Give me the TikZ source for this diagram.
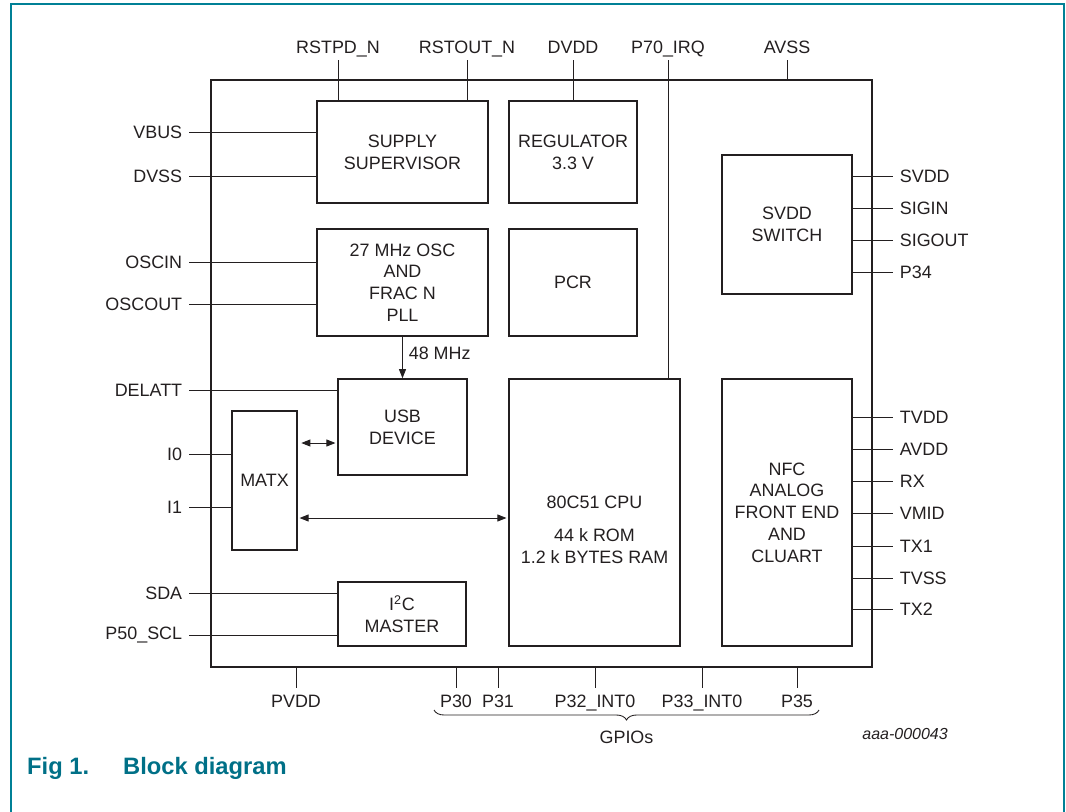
\documentclass[tikz,border=0pt]{standalone}
\usepackage{fontspec}
\setmainfont{Liberation Sans}
\usepackage{tikz}
\usetikzlibrary{positioning, arrows.meta, decorations.pathreplacing}
\definecolor{nxpteal}{RGB}{0,112,135}
\definecolor{frameteal}{RGB}{0,128,150}
\definecolor{ink}{RGB}{35,31,32}

\begin{document}
\begin{tikzpicture}[x=0.02cm, y=-0.02cm,
        every node/.style={font=\fontsize{10.2}{12.4}\selectfont, text=ink},
        chipbox/.style={rectangle, draw=ink, line width=1.1pt, minimum width=13.22cm, minimum height=11.74cm},
        blk/.style={rectangle, draw=ink, line width=0.95pt, align=center, inner sep=0pt},
        pin/.style={draw=ink, line width=0.5pt},
        pinlbl/.style={inner sep=0.13cm},
        arr/.style={-{Triangle[length=1.8mm, width=1.4mm]}, draw=ink, line width=0.5pt},
        darr/.style={{Triangle[length=1.8mm, width=1.4mm]}-{Triangle[length=1.8mm, width=1.4mm]}, draw=ink, line width=0.5pt}
    ]
    \useasboundingbox (0,0) rectangle (1066,812);
%
    % Frame
    \draw[frameteal, line width=0.9pt] (11,812) -- (11,4) -- (1064,4) -- (1064,812);
%
    % Chip and blocks
    \node[chipbox] (chip) at (541.5,373.5) {};
    \node[blk, minimum width=3.42cm, minimum height=2.04cm] (sup) at (402.5,152) {SUPPLY\\SUPERVISOR};
    \node[blk, minimum width=2.56cm, minimum height=2.04cm] (reg) at (573,152) {REGULATOR\\3.3 V};
    \node[blk, minimum width=3.42cm, minimum height=2.14cm] (osc) at (402.5,282.5) {27 MHz OSC\\AND\\FRAC N\\PLL};
    \node[blk, minimum width=2.56cm, minimum height=2.14cm] (pcr) at (573,282.5) {PCR};
    \node[blk, minimum width=2.6cm, minimum height=2.78cm] (sw) at (787,224.5) {SVDD\\SWITCH};
    \node[blk, minimum width=2.58cm, minimum height=1.92cm] (usb) at (402.5,427) {USB\\DEVICE};
    \node[blk, minimum width=1.3cm, minimum height=2.78cm] (matx) at (264.5,480.5) {MATX};
    \node[blk, minimum width=3.42cm, minimum height=5.34cm] (cpu) at (594.5,512.5) {};
    \node[align=center] (cputxt) at (594.5,530) {80C51 CPU\\[0.22cm]44 k ROM\\1.2 k BYTES RAM};
    \node[blk, minimum width=2.6cm, minimum height=5.34cm] (nfc) at (787,512.5) {NFC\\ANALOG\\FRONT END\\AND\\CLUART};
    \node[blk, minimum width=2.56cm, minimum height=1.28cm] (i2c) at (402,614) {I\textsuperscript{2}C\\MASTER};
%
    % Top pins
    \foreach \x/\n/\t/\b in {338/rstpd/RSTPD\_N/sup, 467/rstout/RSTOUT\_N/sup, 573/dvdd/DVDD/reg, 668/irq/P70\_IRQ/cpu, 787/avss/AVSS/chip} {
        \coordinate (t-\n) at (\x,60);
        \node[anchor=base] (l-\n) at (\x,53) {\t};
        \draw[pin] (t-\n) -- (\b.north -| t-\n);
    }
%
    % Left pins
    \foreach \y/\n/\t/\b in {132/vbus/VBUS/sup, 176/dvss/DVSS/sup, 262/oscin/OSCIN/osc, 304/oscout/OSCOUT/osc, 390/delatt/DELATT/usb, 454/izero/I0/matx, 507/ione/I1/matx, 593/sda/SDA/i2c, 635/scl/P50\_SCL/i2c} {
        \coordinate (p-\n) at (189,\y);
        \node[pinlbl, left] (l-\n) at (p-\n) {\t};
        \draw[pin] (p-\n) -- (\b.west |- p-\n);
    }
%
    % Right pins
    \foreach \y/\n/\t/\b in {176/svdd/SVDD/sw, 208/sigin/SIGIN/sw, 240/sigout/SIGOUT/sw, 272/pthree/P34/sw,
                             417/tvdd/TVDD/nfc, 449/avdd/AVDD/nfc, 481/rx/RX/nfc, 513/vmid/VMID/nfc, 546/txone/TX1/nfc, 578/tvss/TVSS/nfc, 609/txtwo/TX2/nfc} {
        \coordinate (p-\n) at (893,\y);
        \node[pinlbl, right] (l-\n) at (p-\n) {\t};
        \draw[pin] (\b.east |- p-\n) -- (p-\n);
    }
%
    % Bottom pins
    \foreach \x/\n/\t in {296/pvdd/PVDD, 456/pthirty/P30, 498/pthirtyone/P31, 595/pint/P32\_INT0, 702/pinttwo/P33\_INT0, 797/pthirtyfive/P35} {
        \coordinate (b-\n) at (\x,688);
        \node[pinlbl, below] (l-\n) at (b-\n) {\t};
        \draw[pin] (chip.south -| b-\n) -- (b-\n);
    }
%
    % Internal links
    \draw[arr] (osc) -- (usb) node[midway, right, yshift=0.09cm] {48 MHz};
    \draw[darr, shorten <=2pt, shorten >=1pt] (matx.east |- 0,443) -- (usb.west |- 0,443);
    \draw[darr, shorten <=1pt, shorten >=1pt] (matx.east |- 0,518) -- (cpu.west |- 0,518);
%
    % GPIO brace
    \coordinate (g-start) at (434,710);
    \coordinate (g-end) at (819,710);
    \draw[ink, line width=0.5pt, decorate, decoration={brace, mirror, amplitude=0.2cm}] (g-start) -- (g-end);
    \node (gpios) at (626.5,737) {GPIOs};
%
    % Caption
    \node[anchor=base east, font=\fontsize{9.1}{10}\selectfont\itshape] (code) at (954,739) {aaa-000043};
    \node[anchor=base west, font=\fontsize{13.5}{16}\selectfont\bfseries, text=nxpteal] (cap) at (21,774) {\makebox[1.92cm][l]{Fig 1.}Block diagram};
%
\end{tikzpicture}
\end{document}
